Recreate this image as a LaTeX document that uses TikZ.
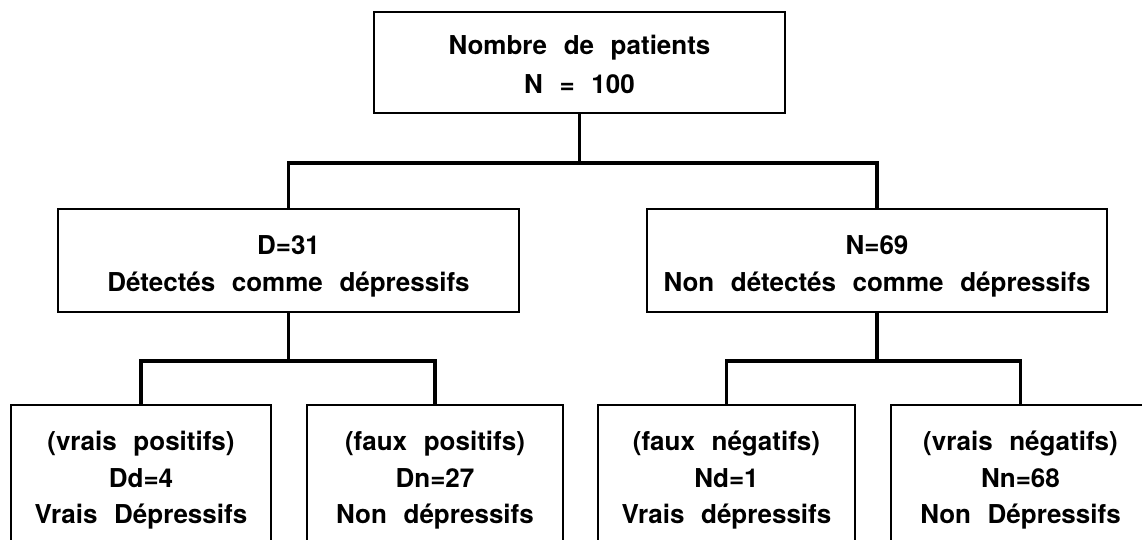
\documentclass[tikz,border=0pt]{standalone}
\usepackage{fontspec}
\setmainfont{TeX Gyre Heros}[WordSpace=2.3]
\begin{document}
\begin{tikzpicture}[x=1pt,y=-1pt,
  box/.style={draw, line width=1.8pt, rectangle, inner sep=0pt},
  conn/.style={line width=3.5pt, line join=miter},
  lbl/.style={anchor=base, inner sep=0pt, font=\bfseries\fontsize{26}{30}\selectfont}]
\useasboundingbox (0,0) rectangle (1142,540);
\clip (0,0) rectangle (1142,540);
% boxes
\node[box, minimum width=411pt, minimum height=101pt] (top) at (579.5,62.5) {};
\node[box, minimum width=461pt, minimum height=103pt] (ml) at (288.5,260.5) {};
\node[box, minimum width=460pt, minimum height=103pt] (mr) at (877,260.5) {};
\node[box, minimum width=260pt, minimum height=165pt] (b1) at (141,487.5) {};
\node[box, minimum width=256pt, minimum height=165pt] (b2) at (435,487.5) {};
\node[box, minimum width=257pt, minimum height=165pt] (b3) at (726.5,487.5) {};
\node[box, minimum width=259pt, minimum height=165pt] (b4) at (1020.5,487.5) {};
% texts
\node[lbl] (t1) at (579.5,55) {Nombre de patients};
\node[lbl] (t2) at (579.5,94) {N = 100};
\node[lbl] (m1) at (288.5,254) {D=31};
\node[lbl] (m2) at (288.5,291) {Détectés comme dépressifs};
\node[lbl] (m3) at (877,254) {N=69};
\node[lbl] (m4) at (877,291) {Non détectés comme dépressifs};
\node[lbl] (p1) at (141,450) {(vrais positifs)};
\node[lbl] (p2) at (141,487) {Dd=4};
\node[lbl] (p3) at (141,523) {Vrais Dépressifs};
\node[lbl] (q1) at (435,450) {(faux positifs)};
\node[lbl] (q2) at (435,487) {Dn=27};
\node[lbl] (q3) at (435,523) {Non dépressifs};
\node[lbl] (r1) at (726.5,450) {(faux négatifs)};
\node[lbl] (r2) at (726.5,487) {Nd=1};
\node[lbl] (r3) at (726.5,523) {Vrais dépressifs};
\node[lbl] (s1) at (1020.5,450) {(vrais négatifs)};
\node[lbl] (s2) at (1020.5,487) {Nn=68};
\node[lbl] (s3) at (1020.5,523) {Non Dépressifs};
% connectors
\coordinate (j1) at (579.5,163);
\coordinate (j2) at (288.5,361);
\coordinate (j3) at (877,361);
\draw[conn] (top.south) -- (j1);
\draw[conn] (ml.north) |- (j1) -| (mr.north);
\draw[conn] (ml.south) -- (j2);
\draw[conn] (b1.north) |- (j2) -| (b2.north);
\draw[conn] (mr.south) -- (j3);
\draw[conn] (b3.north) |- (j3) -| (b4.north);
\end{tikzpicture}
\end{document}
